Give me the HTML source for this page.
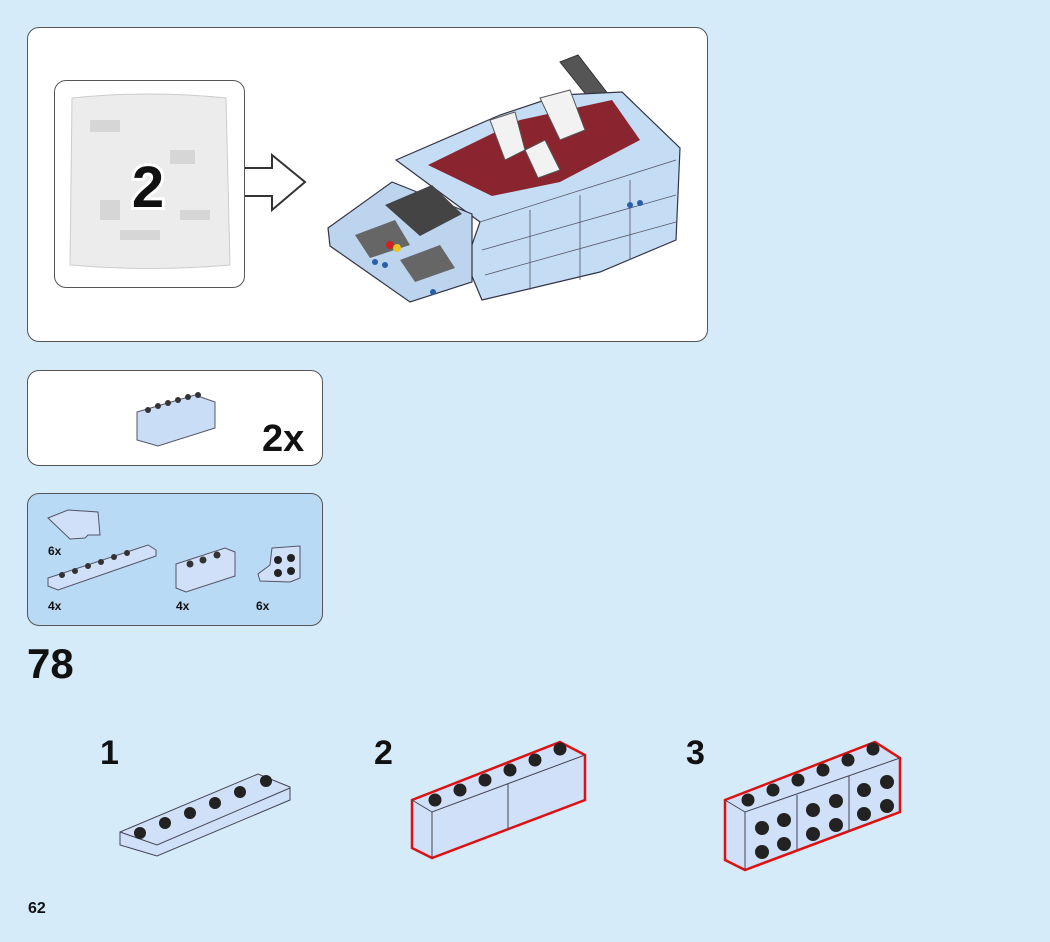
<!DOCTYPE html>
<html><head><meta charset="utf-8"><style>
body{margin:0;width:1050px;height:942px;background:#d5ebfa;position:relative;overflow:hidden;font-family:"Liberation Sans",Arial,sans-serif}
.box{position:absolute;border:1.5px solid #555;border-radius:12px;background:#fff}
.t{position:absolute;font-weight:bold;color:#111}
</style></head><body>
<div class="box" style="left:27px;top:27px;width:679px;height:313px"></div>
<div class="box" style="left:54px;top:80px;width:189px;height:206px;border-radius:12px"></div>
<div class="box" style="left:27px;top:370px;width:294px;height:94px"></div>
<div class="box" style="left:27px;top:493px;width:294px;height:131px;background:#b9daf4"></div>
<div class="t" style="left:27px;top:640px;font-size:42px">78</div>
<div class="t" style="left:262px;top:418px;font-size:38px">2x</div>
<div class="t" style="left:100px;top:734px;font-size:34px">1</div>
<div class="t" style="left:374px;top:734px;font-size:34px">2</div>
<div class="t" style="left:686px;top:734px;font-size:34px">3</div>
<div class="t" style="left:28px;top:900px;font-size:16px">62</div>
<div class="t" style="left:48px;top:544px;font-size:12px">6x</div>
<div class="t" style="left:48px;top:599px;font-size:12px">4x</div>
<div class="t" style="left:176px;top:599px;font-size:12px">4x</div>
<div class="t" style="left:256px;top:599px;font-size:12px">6x</div>
<svg width="1050" height="942" style="position:absolute;left:0;top:0">
<!-- bag -->
<path d="M72,98 Q150,90 226,98 L230,265 Q150,272 70,265 Z" fill="#ececec" stroke="#ccc"/>
<g fill="#d6d6d6"><rect x="90" y="120" width="30" height="12"/><rect x="170" y="150" width="25" height="14"/><rect x="100" y="200" width="20" height="20"/><rect x="180" y="210" width="30" height="10"/><rect x="120" y="230" width="40" height="10"/></g>
<text x="148" y="207" font-size="58" font-weight="bold" text-anchor="middle" fill="#111" stroke="#fff" stroke-width="6" paint-order="stroke" font-family="Liberation Sans">2</text>
<!-- arrow -->
<path d="M245,168 L272,168 L272,155 L305,182 L272,210 L272,196 L245,196" fill="#fff" stroke="#333" stroke-width="2"/>
<!-- car -->
<path d="M560,62 L578,55 L632,125 L616,132 Z" fill="#555" stroke="#333"/>
<path d="M396,160 L500,115 L560,95 L622,92 L680,148 L676,240 L600,272 L482,300 L466,262 L480,222 Z" fill="#c5dcf5" stroke="#334" stroke-width="1.2"/>
<path d="M328,228 L392,182 L472,214 L472,282 L410,302 L330,246 Z" fill="#bcd4ee" stroke="#334" stroke-width="1.2"/>
<path d="M428,165 L520,120 L612,100 L640,140 L560,182 L492,196 Z" fill="#8a2530"/>
<path d="M490,120 L515,112 L525,150 L505,160 Z M540,98 L570,90 L585,130 L560,140 Z M525,150 L545,140 L560,170 L538,178 Z" fill="#f2f2f2" stroke="#555"/>
<path d="M385,205 L432,185 L462,214 L420,236 Z" fill="#444"/>
<path d="M355,235 L395,220 L410,245 L370,258 Z M400,260 L440,245 L455,268 L415,282 Z" fill="#666"/>
<g stroke="#556" stroke-width="0.8" fill="none"><path d="M480,222 L676,160 M482,250 L676,195 M485,275 L676,222 M530,210 L530,290 M580,195 L580,280 M630,180 L630,260"/></g>
<g fill="#2a5fa8"><circle cx="375" cy="262" r="3"/><circle cx="385" cy="265" r="3"/><circle cx="433" cy="292" r="3"/><circle cx="630" cy="205" r="3"/><circle cx="640" cy="203" r="3"/></g>
<circle cx="390" cy="245" r="4" fill="#c22"/><circle cx="397" cy="248" r="4" fill="#e8c420"/>
<!-- part box 2x brick -->
<path d="M137,412 L195,395 L215,402 L215,428 L158,446 L137,440 Z" fill="#c9ddf6" stroke="#556"/>
<g fill="#333"><circle cx="148" cy="410" r="3"/><circle cx="158" cy="406" r="3"/><circle cx="168" cy="403" r="3"/><circle cx="178" cy="400" r="3"/><circle cx="188" cy="397" r="3"/><circle cx="198" cy="395" r="3"/></g>
<!-- parts list -->
<path d="M48,518 L68,510 L98,512 L100,535 L88,535 L85,538 L70,539 Z" fill="#cfe0f8" stroke="#556"/>
<path d="M48,578 L148,545 L156,550 L156,556 L58,590 L48,586 Z" fill="#cfe0f8" stroke="#556"/>
<g fill="#333"><circle cx="62" cy="575" r="3"/><circle cx="75" cy="571" r="3"/><circle cx="88" cy="566" r="3"/><circle cx="101" cy="562" r="3"/><circle cx="114" cy="557" r="3"/><circle cx="127" cy="553" r="3"/></g>
<path d="M176,564 L225,548 L235,552 L235,576 L186,592 L176,588 Z" fill="#cfe0f8" stroke="#556"/>
<g fill="#333"><circle cx="190" cy="564" r="3.5"/><circle cx="203" cy="560" r="3.5"/><circle cx="217" cy="555" r="3.5"/></g>
<path d="M272,548 L300,546 L300,578 L290,582 L260,581 L258,574 L270,565 Z" fill="#cfe0f8" stroke="#556"/>
<g fill="#222"><circle cx="278" cy="560" r="4"/><circle cx="291" cy="558" r="4"/><circle cx="278" cy="573" r="4"/><circle cx="291" cy="571" r="4"/></g>
<!-- step 1 -->
<path d="M120,832 L258,774 L290,787 L290,800 L157,856 L120,845 Z" fill="#cfe0f8" stroke="#445"/>
<path d="M120,832 L157,845 L290,788" fill="none" stroke="#445"/>
<g fill="#222"><circle cx="140" cy="833" r="6"/><circle cx="165" cy="823" r="6"/><circle cx="190" cy="813" r="6"/><circle cx="215" cy="803" r="6"/><circle cx="240" cy="792" r="6"/><circle cx="266" cy="781" r="6"/></g>
<!-- step 2 -->
<path d="M412,800 L560,742 L585,755 L585,800 L432,858 L412,848 Z" fill="#cfe0f8" stroke="#d11" stroke-width="2.5"/>
<path d="M412,800 L432,812 L585,755 M432,812 L432,858 M508,784 L508,830" fill="none" stroke="#445"/>
<g fill="#222"><circle cx="435" cy="800" r="6.5"/><circle cx="460" cy="790" r="6.5"/><circle cx="485" cy="780" r="6.5"/><circle cx="510" cy="770" r="6.5"/><circle cx="535" cy="760" r="6.5"/><circle cx="560" cy="749" r="6.5"/></g>
<!-- step 3 -->
<path d="M725,800 L875,742 L900,758 L900,812 L745,870 L725,860 Z" fill="#cfe0f8" stroke="#d11" stroke-width="2.5"/>
<path d="M725,800 L745,812 L900,758 M745,812 L745,870 M797,795 L797,850 M849,776 L849,832" fill="none" stroke="#445"/>
<g fill="#222"><circle cx="748" cy="800" r="6.5"/><circle cx="773" cy="790" r="6.5"/><circle cx="798" cy="780" r="6.5"/><circle cx="823" cy="770" r="6.5"/><circle cx="848" cy="760" r="6.5"/><circle cx="873" cy="749" r="6.5"/></g>
<g fill="#222"><circle cx="762" cy="828" r="7"/><circle cx="784" cy="820" r="7"/><circle cx="762" cy="852" r="7"/><circle cx="784" cy="844" r="7"/><circle cx="813" cy="810" r="7"/><circle cx="836" cy="801" r="7"/><circle cx="813" cy="834" r="7"/><circle cx="836" cy="825" r="7"/><circle cx="864" cy="790" r="7"/><circle cx="887" cy="782" r="7"/><circle cx="864" cy="814" r="7"/><circle cx="887" cy="806" r="7"/></g>
</svg>
</body></html>
